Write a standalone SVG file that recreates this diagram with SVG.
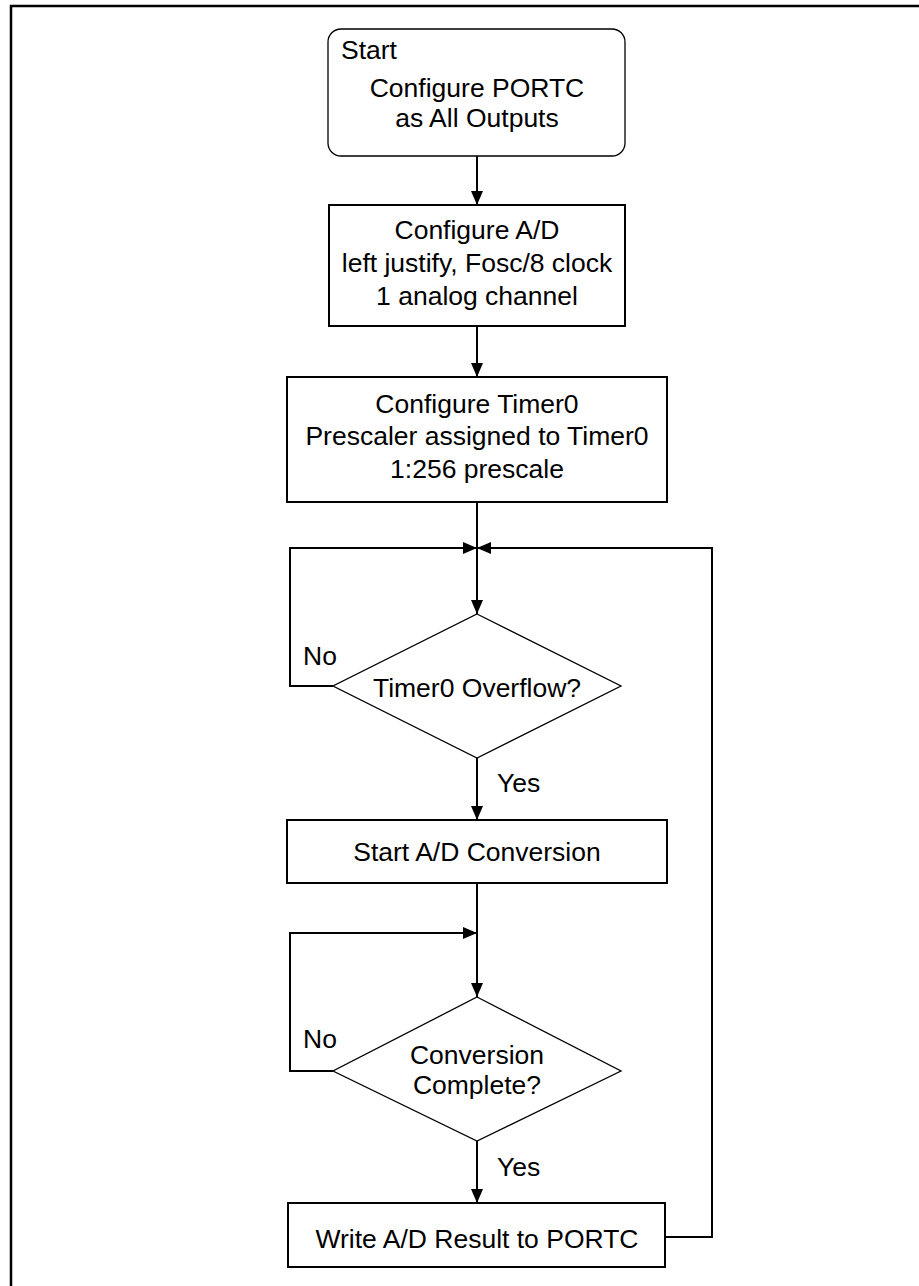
<svg xmlns="http://www.w3.org/2000/svg" width="919" height="1286" viewBox="0 0 919 1286">
<style>
.t{font-family:"Liberation Sans",Arial,sans-serif;font-size:26.5px;fill:#000}
.m{text-anchor:middle}
.box{fill:#fff;stroke:#000;stroke-width:2}
.dia{fill:#fff;stroke:#000;stroke-width:1.3}
.c{fill:none;stroke:#000;stroke-width:2}
</style>
<defs>
<marker id="ah" viewBox="0 0 14 12" refX="14" refY="6" markerWidth="14" markerHeight="12" markerUnits="userSpaceOnUse" orient="auto">
<path d="M0,0 L14,6 L0,12 Z" fill="#000"/>
</marker>
</defs>
<rect width="919" height="1286" fill="#fff"/>
<path d="M11,1286 V6 H919" fill="none" stroke="#000" stroke-width="2.5"/>
<g id="connectors">
<path class="c" d="M477,156 V205" marker-end="url(#ah)"/>
<path class="c" d="M477,326 V377" marker-end="url(#ah)"/>
<path class="c" d="M477,502 V614" marker-end="url(#ah)"/>
<path class="c" d="M333,686 H290 V548 H477" marker-end="url(#ah)"/>
<path class="c" d="M665,1237 H712 V548 H477" marker-end="url(#ah)"/>
<path class="c" d="M477,758 V820" marker-end="url(#ah)"/>
<path class="c" d="M477,883 V997" marker-end="url(#ah)"/>
<path class="c" d="M333,1071 H290 V933 H477" marker-end="url(#ah)"/>
<path class="c" d="M477,1141 V1203" marker-end="url(#ah)"/>
<text class="t" x="303" y="665">No</text>
<text class="t" x="497" y="792">Yes</text>
<text class="t" x="303" y="1048">No</text>
<text class="t" x="497" y="1176">Yes</text>
</g>
<g id="start">
<rect x="328" y="29" width="297" height="127" rx="13" fill="#fff" stroke="#000" stroke-width="1.3"/>
<text class="t" x="341" y="59">Start</text>
<text class="t m" x="477" y="97">Configure PORTC</text>
<text class="t m" x="477" y="127">as All Outputs</text>
</g>
<g id="configAD">
<rect class="box" x="329" y="205" width="296" height="121"/>
<text class="t m" x="477" y="239">Configure A/D</text>
<text class="t m" x="477" y="272">left justify, Fosc/8 clock</text>
<text class="t m" x="477" y="305">1 analog channel</text>
</g>
<g id="configTimer">
<rect class="box" x="287" y="377" width="380" height="125"/>
<text class="t m" x="477" y="413">Configure Timer0</text>
<text class="t m" x="477" y="445">Prescaler assigned to Timer0</text>
<text class="t m" x="477" y="478">1:256 prescale</text>
</g>
<g id="overflow">
<polygon class="dia" points="477,614 621,686 477,758 333,686"/>
<text class="t m" x="477" y="697">Timer0 Overflow?</text>
</g>
<g id="startAD">
<rect class="box" x="287" y="820" width="380" height="63"/>
<text class="t m" x="477" y="861">Start A/D Conversion</text>
</g>
<g id="complete">
<polygon class="dia" points="477,997 621,1071 477,1141 333,1071"/>
<text class="t m" x="477" y="1064">Conversion</text>
<text class="t m" x="477" y="1094">Complete?</text>
</g>
<g id="write">
<rect class="box" x="288" y="1203" width="377" height="64"/>
<text class="t m" x="477" y="1248">Write A/D Result to PORTC</text>
</g>
</svg>
